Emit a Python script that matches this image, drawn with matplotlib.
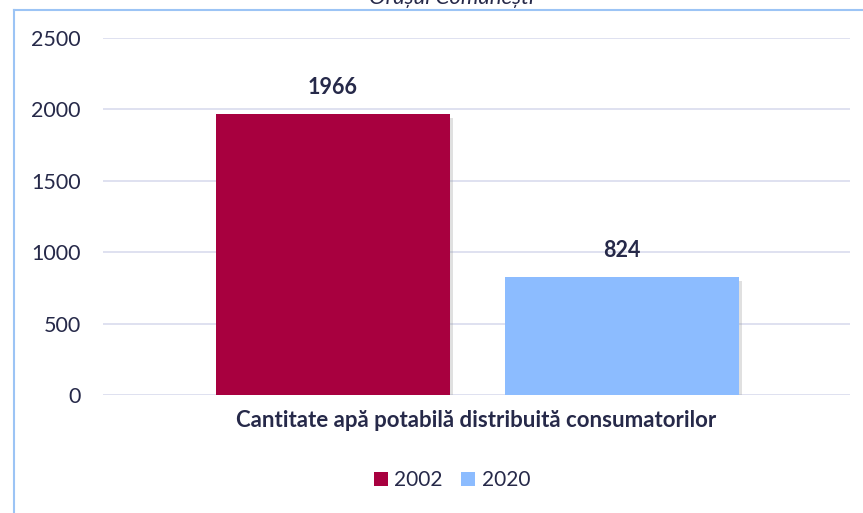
import matplotlib.pyplot as plt
import matplotlib.patheffects as pe
from matplotlib.lines import Line2D
from matplotlib.patches import Patch

plt.rcParams['font.family'] = ['Lato', 'DejaVu Sans']

categorie = "Cantitate apă potabilă distribuită consumatorilor"
ani = ["2002", "2020"]
valori = [1966, 824]
culori = ["#A8003F", "#8CBCFF"]
text_col = "#262949"

fig = plt.figure(figsize=(8.63, 5.13), dpi=100)
W, H = 863, 513
ax = fig.add_axes([103 / W, 1 - 395 / H, (850 - 103) / W, (395 - 38) / H])

offsets = [-0.192, 0.195]
width = 0.313
for off, v, c in zip(offsets, valori, culori):
    b = ax.bar(off, v, width=width, color=c, zorder=3)
    b[0].set_path_effects([pe.SimplePatchShadow(offset=(2, -2.5), shadow_rgbFace='#999999', alpha=0.3),
                           pe.Normal()])
    ax.text(off, v + 115, str(v), ha='center', va='bottom', fontsize=15.5,
            fontweight='bold', color=text_col)

ax.set_xlim(-0.5, 0.5)
ax.set_ylim(0, 2500)
ax.set_yticks([0, 500, 1000, 1500, 2000, 2500])
ax.grid(axis='y', color='#D9DCEE', linewidth=1.2, zorder=0)
ax.set_axisbelow(True)
for s in ax.spines.values():
    s.set_visible(False)
ax.tick_params(axis='y', length=0, pad=16, labelsize=15.5, labelcolor=text_col)
ax.set_xticks([0])
ax.set_xticklabels([categorie], fontsize=16, fontweight='bold', color=text_col)
ax.tick_params(axis='x', length=0, pad=11)

handles = [Patch(facecolor=c, edgecolor='none') for c in culori]
fig.legend(handles, ani, loc='center', bbox_to_anchor=(452 / W, 1 - 480 / H), ncol=2,
           frameon=False, fontsize=15, labelcolor=text_col, handlelength=0.67,
           handleheight=0.67, handletextpad=0.3, columnspacing=0.9)

# chenarul graficului
fig.add_artist(Line2D([14 / W, 14 / W], [0, 1 - 10 / H], color='#9CC4F5', linewidth=1.5))
fig.add_artist(Line2D([14 / W, 1], [1 - 10 / H, 1 - 10 / H], color='#9CC4F5', linewidth=1.5))

fig.text(451 / W, 1 - 4 / H, "Orașul Comănești", ha='center', va='baseline',
         fontsize=16, style='italic', color=text_col)

fig.savefig("out.png", dpi=100)
